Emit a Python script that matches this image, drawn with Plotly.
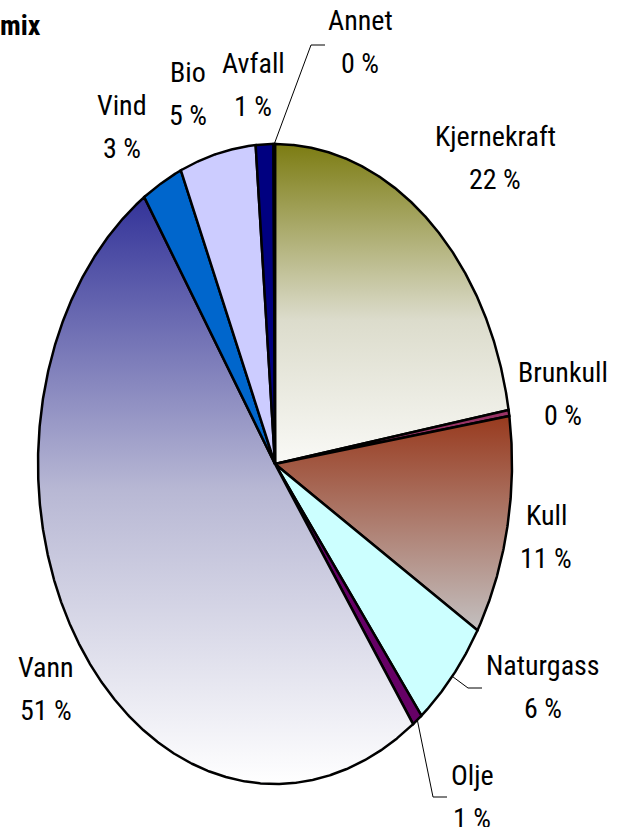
import numpy as np
import plotly.graph_objects as go

# ---- data ----
categories = ["Kjernekraft", "Brunkull", "Kull", "Naturgass", "Olje",
              "Vann", "Vind", "Bio", "Avfall", "Annet"]
shares = [22.3, 0.3, 11.1, 5.7, 0.7, 50.6, 2.8, 5.2, 1.2, 0.1]
title_text = "mix"

# ---- style ----
W, H = 625, 827
CX, CY, RX, RY = 275, 464, 237, 320   # pixel centre and radii of the (elliptic) pie
FONT = "Roboto Condensed, Liberation Sans, Arial, sans-serif"
FONT_SIZE = 28
TEXT_DY = 0

fills = {
    "Kjernekraft": [[0, "#f9f9f6"], [0.45, "#dcdccc"], [1, "#7c7c12"]],
    "Brunkull": "#993366",
    "Kull": [[0, "#c3c0c0"], [1, "#983a1e"]],
    "Naturgass": "#ccffff",
    "Olje": "#660066",
    "Vann": [[0, "#ffffff"], [0.5, "#b8b8d4"], [1, "#333399"]],
    "Vind": "#0066cc",
    "Bio": "#ccccff",
    "Avfall": "#000080",
    "Annet": "#ff00ff",
}

# label anchor (pixel centre of the name line)
label_pos = {
    "Annet": (360, 20), "Kjernekraft": (495, 136), "Brunkull": (563, 372),
    "Kull": (546, 515), "Naturgass": (543, 665), "Olje": (472, 775),
    "Vann": (46, 667), "Vind": (122, 105), "Bio": (188, 72), "Avfall": (253, 63),
}
LINE_GAP = 43
# leader lines: elbow and end in pixels
leaders = {
    "Annet": [(311, 45), (325, 45)],
    "Naturgass": [(468, 688), (482, 688)],
    "Olje": [(433, 797), (447, 797)],
}


def px2d(px, py):
    return (px - CX) / RX, (CY - py) / RY


fig = go.Figure()

total = sum(shares)
cum = 0.0
mids = {}
for cat, val in zip(categories, shares):
    t0 = cum / total * 2 * np.pi
    cum += val
    t1 = cum / total * 2 * np.pi
    mids[cat] = (t0 + t1) / 2
    n = max(3, int((t1 - t0) / (2 * np.pi) * 1440))
    th = np.linspace(t0, t1, n)
    xs = np.concatenate([[0], np.sin(th), [0]])
    ys = np.concatenate([[0], np.cos(th), [0]])
    f = fills[cat]
    kw = {}
    if isinstance(f, list):
        kw["fillgradient"] = dict(type="vertical", colorscale=f)
    else:
        kw["fillcolor"] = f
    fig.add_trace(go.Scatter(
        x=xs, y=ys, mode="lines", fill="toself",
        line=dict(color="black", width=2.5), hoverinfo="skip", **kw))

# leader lines
for cat, pts in leaders.items():
    m = mids[cat]
    xs = [np.sin(m)] + [px2d(*p)[0] for p in pts]
    ys = [np.cos(m)] + [px2d(*p)[1] for p in pts]
    fig.add_trace(go.Scatter(x=xs, y=ys, mode="lines",
                             line=dict(color="black", width=1), hoverinfo="skip"))

# labels
for cat, val in zip(categories, shares):
    px, py = label_pos[cat]
    for txt, yy in ((cat, py), (f"{round(val / total * 100)} %", py + LINE_GAP)):
        x, y = px2d(px, yy + TEXT_DY)
        fig.add_annotation(x=x, y=y, text=txt, showarrow=False,
                           xanchor="center", yanchor="middle",
                           font=dict(family=FONT, size=FONT_SIZE, color="black"))

tx, ty = px2d(1, 25 + TEXT_DY)
fig.add_annotation(x=tx, y=ty, text=f"<b>{title_text}</b>", showarrow=False,
                   xanchor="left", yanchor="middle", xshift=-3,
                   font=dict(family=FONT, size=28, color="black"))

xr = [px2d(0, 0)[0], px2d(W, 0)[0]]
yr = [px2d(0, H)[1], px2d(0, 0)[1]]
fig.update_layout(
    width=W, height=H, margin=dict(l=0, r=0, t=0, b=0),
    paper_bgcolor="white", plot_bgcolor="white", showlegend=False,
    xaxis=dict(range=xr, visible=False, fixedrange=True),
    yaxis=dict(range=yr, visible=False, fixedrange=True),
)
fig.write_html("out.html", config={"displayModeBar": False, "staticPlot": True},
               post_script="document.body.style.margin='0';document.body.style.overflow='hidden';")
